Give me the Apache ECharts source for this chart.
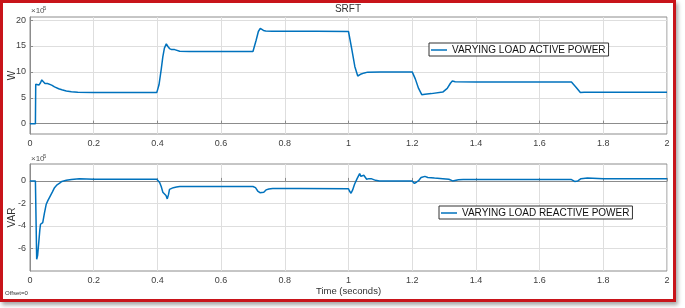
<!DOCTYPE html>
<html>
<head>
<meta charset="utf-8">
<script src="https://cdn.jsdelivr.net/npm/echarts@6/dist/echarts.min.js"></script>
<style>
  html, body { margin: 0; padding: 0; background: #fff; }
  #chart { width: 685px; height: 308px; }
  #frame {
    position: absolute; left: 0; top: 0;
    width: 670px; height: 296px;
    border: 3px solid #c8141a;
    box-shadow: 2px 3px 4px rgba(0,0,0,0.35);
    pointer-events: none;
  }
</style>
</head>
<body>
<div id="chart"></div>
<div id="frame"></div>
<script>
// active power, x1e5 W
const activeT = [
  0, 0.017, 0.018, 0.022, 0.028, 0.033, 0.037, 0.042, 0.047, 0.055,
  0.061, 0.068, 0.077, 0.09, 0.1, 0.114, 0.13, 0.15, 0.2, 0.398,
  0.405, 0.412, 0.417, 0.422, 0.428, 0.433, 0.438, 0.445, 0.454, 0.47,
  0.5, 0.7, 0.703, 0.71, 0.717, 0.723, 0.728, 0.733, 0.74, 0.76,
  0.9, 1.0, 1.003, 1.01, 1.02, 1.029, 1.035, 1.04, 1.05, 1.06,
  1.1, 1.2, 1.202, 1.21, 1.22, 1.23, 1.24, 1.26, 1.296, 1.31,
  1.32, 1.326, 1.335, 1.4, 1.7, 1.704, 1.715, 1.728, 1.74, 2.0
]
const activeP = [
  0, 0, 7.6, 7.6, 7.45, 7.9, 8.45, 8.2, 7.75, 7.75,
  7.7, 7.45, 7.1, 6.75, 6.55, 6.3, 6.15, 6.05, 6.0, 6.0,
  7.5, 10.5, 12.9, 14.6, 15.4, 14.9, 14.5, 14.3, 14.3, 14.0,
  13.95, 13.95, 14.2, 16.1, 17.8, 18.4, 18.5, 18.0, 17.9, 17.85,
  17.85, 17.8, 17.5, 14.5, 11.0, 9.2, 9.4, 9.6, 9.8, 9.95,
  10.0, 10.0, 9.8, 8.6, 6.8, 5.6, 5.7, 5.8, 6.1, 6.8,
  7.8, 8.25, 8.1, 8.05, 8.05, 8.0, 7.0, 6.0, 6.05, 6.05
]

// reactive power, x1e5 VAR
const reactiveT = [
  0, 0.017, 0.021, 0.024, 0.028, 0.031, 0.033, 0.037, 0.04, 0.045,
  0.051, 0.056, 0.061, 0.07, 0.077, 0.085, 0.093, 0.1, 0.114, 0.13,
  0.155, 0.2, 0.398, 0.403, 0.407, 0.412, 0.417, 0.422, 0.427, 0.431,
  0.435, 0.438, 0.444, 0.45, 0.46, 0.47, 0.6, 0.7, 0.708, 0.715,
  0.722, 0.728, 0.734, 0.741, 0.75, 0.762, 0.85, 1.0, 1.003, 1.008,
  1.013, 1.019, 1.027, 1.035, 1.039, 1.042, 1.048, 1.052, 1.057, 1.064,
  1.071, 1.085, 1.097, 1.2, 1.207, 1.214, 1.221, 1.228, 1.233, 1.24,
  1.249, 1.27, 1.296, 1.315, 1.327, 1.333, 1.345, 1.36, 1.5, 1.7,
  1.71, 1.72, 1.73, 1.736, 1.75, 1.8, 2.0
]
const reactiveQ = [
  0, 0, -6.96, -6.6, -5.3, -4.3, -3.85, -3.75, -3.7, -2.9,
  -2.07, -1.75, -1.48, -1.0, -0.6, -0.35, -0.2, -0.05, 0.05, 0.12,
  0.18, 0.15, 0.15, 0.05, -0.15, -0.5, -1.0, -1.1, -1.3, -1.6,
  -1.2, -0.75, -0.7, -0.6, -0.55, -0.5, -0.5, -0.5, -0.6, -0.9,
  -1.05, -1.2, -1.0, -0.8, -0.72, -0.68, -0.68, -0.7, -0.9, -1.1,
  -0.8, -0.3, 0.2, 0.65, 0.4, 0.3, 0.5, 0.35, 0.15, 0.2,
  0.2, 0.05, 0.0, 0.0, -0.23, -0.1, 0.05, 0.3, 0.45, 0.4,
  0.3, 0.25, 0.2, 0.15, 0.0, -0.05, 0.1, 0.12, 0.12, 0.12,
  -0.05, 0.0, 0.2, 0.3, 0.25, 0.2, 0.18
]

const activeTicks = [0, 5, 10, 15, 20]
const reactiveTicks = [-6, -4, -2, 0]
const activeName = 'VARYING LOAD ACTIVE POWER'
const reactiveName = 'VARYING LOAD REACTIVE POWER'

const font = 'Liberation Sans'
const boxColor = '#8c8c8c'
const gridColor = '#dedede'
const lineColor = '#0072BD'

function xAxisOf(i, extra) {
  return Object.assign({
    gridIndex: i,
    type: 'value',
    min: 0, max: 2, interval: 0.2,
    axisLine: { show: true, lineStyle: { color: boxColor } },
    axisTick: { show: true, inside: true, length: 3, lineStyle: { color: boxColor } },
    axisLabel: { color: '#404040', fontSize: 9, fontFamily: font, margin: 5 },
    splitLine: { show: true, lineStyle: { color: gridColor } }
  }, extra)
}

function yAxisOf(i, min, max, ticks, name) {
  return {
    gridIndex: i,
    type: 'value',
    min: min, max: max,
    name: name, nameLocation: 'middle', nameGap: 13, nameRotate: 90,
    nameMoveOverlap: false,
    nameTextStyle: { color: '#303030', fontSize: 10, fontFamily: font },
    axisLine: { show: true, lineStyle: { color: boxColor } },
    axisTick: { show: true, inside: true, length: 3, customValues: ticks, lineStyle: { color: boxColor } },
    axisLabel: { color: '#404040', fontSize: 9, fontFamily: font, margin: 4, customValues: ticks },
    splitLine: { show: true, lineStyle: { color: gridColor } }
  }
}

function legendOf(name, left, top) {
  return {
    data: [name], left: left, top: top,
    icon: 'rect', itemWidth: 16, itemHeight: 1.5, itemGap: 4,
    backgroundColor: '#fff', borderColor: '#333', borderWidth: 1,
    padding: [2, 3, 1, 2],
    textStyle: { color: '#111', fontSize: 10, fontFamily: font }
  }
}

const chart = echarts.init(document.getElementById('chart'))
chart.setOption({
  animation: false,
  backgroundColor: '#fff',
  grid: [
    { left: 30, right: 18, top: 17, height: 117, containLabel: false, outerBoundsMode: 'none', show: true, borderColor: boxColor, borderWidth: 1 },
    { left: 30, right: 18, top: 164, height: 107, containLabel: false, outerBoundsMode: 'none', show: true, borderColor: boxColor, borderWidth: 1 }
  ],
  xAxis: [
    xAxisOf(0),
    xAxisOf(1, {
      name: 'Time (seconds)', nameLocation: 'middle', nameGap: 15,
      nameTextStyle: { color: '#303030', fontSize: 9.5, fontFamily: font }
    })
  ],
  yAxis: [
    yAxisOf(0, -2, 20.6, activeTicks, 'W'),
    yAxisOf(1, -8, 1.5, reactiveTicks, 'VAR')
  ],
  legend: [
    legendOf(activeName, 429, 43),
    legendOf(reactiveName, 439, 206)
  ],
  graphic: [
    { type: 'text', x: 348, y: 9, style: { text: 'SRFT', align: 'center', verticalAlign: 'middle', font: '10px ' + font, fill: '#333' } },
    { type: 'text', x: 31, y: 11, style: { text: '×10', verticalAlign: 'middle', font: '8px ' + font, fill: '#555' } },
    { type: 'text', x: 43, y: 8, style: { text: '5', verticalAlign: 'middle', font: '6px ' + font, fill: '#555' } },
    { type: 'text', x: 31, y: 159, style: { text: '×10', verticalAlign: 'middle', font: '8px ' + font, fill: '#555' } },
    { type: 'text', x: 43, y: 156, style: { text: '5', verticalAlign: 'middle', font: '6px ' + font, fill: '#555' } },
    { type: 'text', x: 5, y: 293, style: { text: 'Offset=0', verticalAlign: 'middle', font: '6px ' + font, fill: '#333' } }
  ],
  series: [
    {
      name: activeName, type: 'line', xAxisIndex: 0, yAxisIndex: 0,
      symbol: 'none', lineStyle: { color: lineColor, width: 1.5 }, itemStyle: { color: lineColor },
      data: activeT.map((t, i) => [t, activeP[i]])
    },
    {
      name: reactiveName, type: 'line', xAxisIndex: 1, yAxisIndex: 1,
      symbol: 'none', lineStyle: { color: lineColor, width: 1.5 }, itemStyle: { color: lineColor },
      data: reactiveT.map((t, i) => [t, reactiveQ[i]])
    }
  ]
})
</script>
</body>
</html>
